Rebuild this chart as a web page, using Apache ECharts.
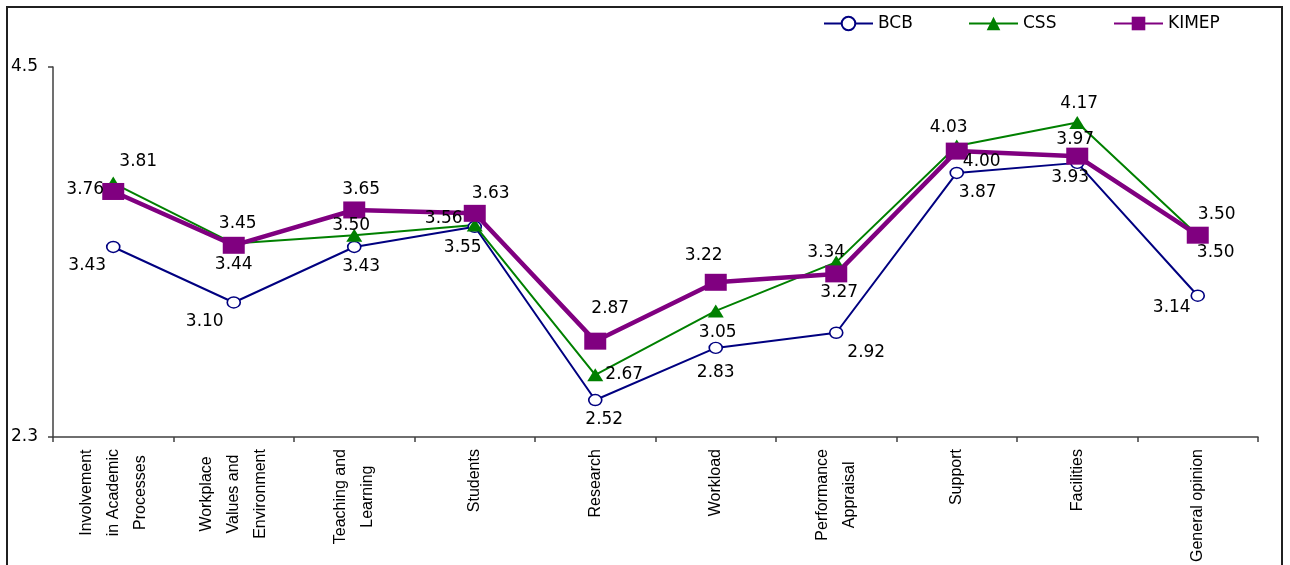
<!DOCTYPE html>
<html>
<head>
<meta charset="utf-8">
<title>Survey scores by area: BCB, CSS, KIMEP</title>
<script src="https://cdn.jsdelivr.net/npm/echarts@6/dist/echarts.min.js"></script>
<style>
  html, body { margin: 0; padding: 0; background: #ffffff; }
  #chart { width: 1290px; height: 565px; }
</style>
</head>
<body>
<div id="chart"></div>
<script>
// Survey areas (x axis), one line break per printed line
const categories = [
  'Involvement\nin Academic\nProcesses',
  'Workplace\nValues and\nEnvironment',
  'Teaching and\nLearning',
  'Students',
  'Research',
  'Workload',
  'Performance\nAppraisal',
  'Support',
  'Facilities',
  'General opinion'
];

// Mean scores per institution
const bcbValues   = [3.43, 3.10, 3.43, 3.55, 2.52, 2.83, 2.92, 3.87, 3.93, 3.14];
const cssValues   = [3.81, 3.45, 3.50, 3.56, 2.67, 3.05, 3.34, 4.03, 4.17, 3.50];
const kimepValues = [3.76, 3.44, 3.65, 3.63, 2.87, 3.22, 3.27, 4.00, 3.97, 3.50];

// Value axis range and the only ticks shown on it
const yMin = 2.3;
const yMax = 4.5;
const yTickValues = [2.3, 4.5];

// Where each value label sits, relative to its marker centre (px)
const bcbLabelOffsets = [[-26, 19], [-29, 19], [7, 20], [-12, 21], [9, 20], [0, 25], [30, 20], [21, 20], [-7, 15], [-26, 12]];
const cssLabelOffsets = [[25, -21], [4, -20], [-3, -10], [-31, -7], [29, 0], [2, 22], [-10, -10], [-8, -18], [2, -19], [19, -21]];
const kimepLabelOffsets = [[-28, -2], [0, 19], [7, -20], [16, -20], [15, -33], [-12, -27], [3, 19], [25, 10], [-2, -17], [18, 17]];

const TEXT_FONT = 'DejaVu Sans';
const AXIS_COLOR = '#404040';

function withLabels(values, offsets) {
  return values.map(function (v, i) {
    return { value: v, label: { offset: offsets[i] } };
  });
}

function lineSeries(name, values, offsets, color, width, symbol, size, fill) {
  return {
    name: name,
    type: 'line',
    data: withLabels(values, offsets),
    symbol: symbol,
    symbolSize: size,
    showAllSymbol: true,
    lineStyle: { color: color, width: width },
    itemStyle: { color: fill, borderColor: color, borderWidth: symbol === 'circle' ? 1.5 : 0 },
    label: {
      show: true,
      position: 'inside',
      color: '#000000',
      fontFamily: TEXT_FONT,
      fontSize: 17,
      formatter: function (p) { return p.value.toFixed(2); }
    },
    emphasis: { disabled: true },
    animation: false
  };
}

function legendFor(name, left) {
  return {
    data: [name],
    left: left,
    top: 15,
    padding: 0,
    itemWidth: 49,
    itemHeight: 17,
    selectedMode: false,
    textStyle: { fontFamily: TEXT_FONT, fontSize: 17, color: '#000000' }
  };
}

const chart = echarts.init(document.getElementById('chart'), null, { renderer: 'canvas' });

chart.setOption({
  backgroundColor: '#ffffff',
  animation: false,
  legend: [
    legendFor('BCB', 823),
    legendFor('CSS', 968),
    legendFor('KIMEP', 1113)
  ],
  grid: { left: 53, right: 32, top: 67, bottom: 122, containLabel: false },
  xAxis: {
    type: 'category',
    data: categories,
    boundaryGap: true,
    axisLine: { show: true, lineStyle: { color: AXIS_COLOR, width: 1.5 } },
    axisTick: { show: true, length: 5, alignWithLabel: false, lineStyle: { color: AXIS_COLOR, width: 1.5 } },
    axisLabel: {
      rotate: 90,
      interval: 0,
      margin: 12,
      color: '#000000',
      fontFamily: 'Liberation Sans',
      fontSize: 16,
      lineHeight: 27,
      formatter: function (v) {
        return v.split('\n').map(function (s) { return '{c|' + s + '}'; }).join('\n');
      },
      rich: {
        c: { align: 'center', fontFamily: 'Liberation Sans', fontSize: 16, lineHeight: 27, color: '#000000' }
      }
    },
    splitLine: { show: false }
  },
  yAxis: {
    type: 'value',
    min: yMin,
    max: yMax,
    axisLine: { show: true, lineStyle: { color: AXIS_COLOR, width: 1.5 } },
    axisTick: { show: true, length: 5, customValues: yTickValues, lineStyle: { color: AXIS_COLOR, width: 1.5 } },
    axisLabel: {
      customValues: yTickValues,
      margin: 15,
      color: '#000000',
      fontFamily: TEXT_FONT,
      fontSize: 17,
      formatter: function (v) { return v.toFixed(1); }
    },
    splitLine: { show: false }
  },
  series: [
    lineSeries('BCB', bcbValues, bcbLabelOffsets, '#000080', 2, 'circle', [13, 11], '#ffffff'),
    lineSeries('CSS', cssValues, cssLabelOffsets, '#008000', 2, 'triangle', [16, 13], '#008000'),
    lineSeries('KIMEP', kimepValues, kimepLabelOffsets, '#800080', 4.5, 'rect', [22, 17], '#800080')
  ],
  graphic: [
    {
      type: 'rect',
      silent: true,
      z: 100,
      shape: { x: 7, y: 7, width: 1275, height: 580 },
      style: { fill: 'none', stroke: '#202020', lineWidth: 2 }
    }
  ]
});
</script>
</body>
</html>
